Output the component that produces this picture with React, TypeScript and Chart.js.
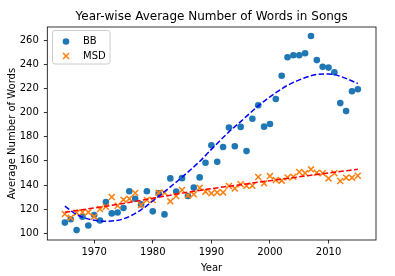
import React, { useEffect, useRef } from "react";
import { Chart, registerables } from "chart.js";

Chart.register(...registerables);

const years = [
  1965, 1966, 1967, 1968, 1969, 1970, 1971, 1972, 1973, 1974,
  1975, 1976, 1977, 1978, 1979, 1980, 1981, 1982, 1983, 1984,
  1985, 1986, 1987, 1988, 1989, 1990, 1991, 1992, 1993, 1994,
  1995, 1996, 1997, 1998, 1999, 2000, 2001, 2002, 2003, 2004,
  2005, 2006, 2007, 2008, 2009, 2010, 2011, 2012, 2013, 2014, 2015,
];

const bbWords = [
  108.9, 111.7, 102.7, 113.8, 106.5, 115.2, 110.6, 126.0, 116.5, 117.2,
  121.0, 134.8, 128.7, 124.0, 134.8, 118.2, 133.2, 115.7, 145.5, 134.5,
  145.7, 130.9, 138.0, 146.3, 158.5, 172.9, 159.2, 171.5, 187.6, 172.1,
  188.1, 168.1, 194.9, 206.0, 188.3, 190.5, 211.2, 230.5, 245.8, 247.4,
  247.4, 249.1, 263.3, 243.4, 237.8, 237.2, 233.3, 207.8, 201.2, 217.6, 219.3,
];

const msdWords = [
  116.0, 113.0, 117.0, 117.5, 117.4, 113.8, 120.1, 122.0, 130.0, 122.9,
  127.9, 128.7, 133.4, 123.4, 127.6, 127.6, 133.7, 133.7, 126.5, 130.9,
  135.9, 131.4, 132.3, 137.8, 134.5, 133.1, 133.9, 133.9, 139.2, 137.2,
  140.6, 139.4, 139.4, 146.6, 141.4, 147.4, 144.1, 143.6, 146.3, 146.9,
  150.8, 149.9, 153.0, 150.2, 149.7, 145.5, 149.7, 143.3, 146.1, 146.1, 147.7,
];

const bbFitYears = [1965, 1967, 1970, 1972, 1975, 1978, 1980, 1983, 1985, 1988, 1990, 1993, 1995, 1998, 2000, 2003, 2005, 2008, 2010, 2012, 2015];
const bbFitValues = [122.5, 115.5, 110.8, 110.0, 112.0, 119.5, 126.8, 138.5, 146.5, 159.5, 169.5, 184.0, 192.5, 205.5, 213.0, 222.5, 227.0, 231.5, 232.0, 230.0, 224.0];

const msdFitYears = [1965, 1970, 1975, 1980, 1985, 1990, 1995, 2000, 2005, 2010, 2015];
const msdFitValues = [117.5, 121.0, 124.8, 129.0, 133.3, 137.0, 140.3, 143.6, 146.8, 150.0, 153.0];

const xTicks = [1970, 1980, 1990, 2000, 2010];
const yTicks = [100, 120, 140, 160, 180, 200, 220, 240, 260];

const titleText = "Year-wise Average Number of Words in Songs";
const xLabel = "Year";
const yLabel = "Average Number of Words";

const FONT = "'DejaVu Sans', sans-serif";
const BLUE = "#1f77b4";
const ORANGE = "#ff7f0e";

export default function App() {
  const ref = useRef<HTMLCanvasElement | null>(null);

  useEffect(() => {
    const canvas = ref.current;
    if (!canvas) return;

    const decor = {
      id: "decor",
      afterDraw(chart: any) {
        const ctx = chart.ctx;
        const a = chart.chartArea;
        ctx.save();
        ctx.strokeStyle = "#000";
        ctx.lineWidth = 0.8;
        ctx.strokeRect(a.left, a.top, a.right - a.left, a.bottom - a.top);
        ctx.fillStyle = "#000";
        ctx.font = `12px ${FONT}`;
        ctx.textAlign = "center";
        ctx.textBaseline = "middle";
        ctx.fillText(titleText, (a.left + a.right) / 2, 17);
        const lx = 52.5, ly = 30.5, lw = 57.5, lh = 33.5, r = 2.5;
        ctx.beginPath();
        ctx.moveTo(lx + r, ly);
        ctx.lineTo(lx + lw - r, ly);
        ctx.quadraticCurveTo(lx + lw, ly, lx + lw, ly + r);
        ctx.lineTo(lx + lw, ly + lh - r);
        ctx.quadraticCurveTo(lx + lw, ly + lh, lx + lw - r, ly + lh);
        ctx.lineTo(lx + r, ly + lh);
        ctx.quadraticCurveTo(lx, ly + lh, lx, ly + lh - r);
        ctx.lineTo(lx, ly + r);
        ctx.quadraticCurveTo(lx, ly, lx + r, ly);
        ctx.closePath();
        ctx.fillStyle = "rgba(255,255,255,0.8)";
        ctx.fill();
        ctx.strokeStyle = "#cccccc";
        ctx.lineWidth = 1;
        ctx.stroke();
        const ds = chart.data.datasets;
        ctx.fillStyle = BLUE;
        ctx.beginPath();
        ctx.arc(66, 41.5, 3.3, 0, Math.PI * 2);
        ctx.fill();
        ctx.strokeStyle = ORANGE;
        ctx.lineWidth = 1.5;
        ctx.beginPath();
        ctx.moveTo(63, 53);
        ctx.lineTo(69, 59);
        ctx.moveTo(69, 53);
        ctx.lineTo(63, 59);
        ctx.stroke();
        ctx.fillStyle = "#000";
        ctx.font = `10px ${FONT}`;
        ctx.textAlign = "left";
        ctx.textBaseline = "middle";
        ctx.fillText(ds[2].label, 83, 41.5);
        ctx.fillText(ds[3].label, 83, 56);
        ctx.restore();
      },
    };

    const chart = new Chart(canvas, {
      type: "scatter",
      data: {
        datasets: [
          {
            type: "line",
            label: "BB fit",
            data: bbFitYears.map((x, i) => ({ x, y: bbFitValues[i] })),
            borderColor: "#0000ff",
            borderWidth: 1.5,
            borderDash: [5.5, 2.4],
            pointRadius: 0,
            fill: false,
            cubicInterpolationMode: "monotone",
            order: 0,
          } as any,
          {
            type: "line",
            label: "MSD fit",
            data: msdFitYears.map((x, i) => ({ x, y: msdFitValues[i] })),
            borderColor: "#ff0000",
            borderWidth: 1.5,
            borderDash: [5.5, 2.4],
            pointRadius: 0,
            fill: false,
            cubicInterpolationMode: "monotone",
            order: 0,
          } as any,
          {
            label: "BB",
            data: years.map((x, i) => ({ x, y: bbWords[i] })),
            backgroundColor: BLUE,
            borderColor: BLUE,
            borderWidth: 0,
            pointRadius: 3.3,
            pointStyle: "circle",
            order: 2,
          },
          {
            label: "MSD",
            data: years.map((x, i) => ({ x, y: msdWords[i] })),
            backgroundColor: ORANGE,
            borderColor: ORANGE,
            borderWidth: 1.5,
            pointRadius: 4.2,
            pointStyle: "crossRot",
            order: 1,
          },
        ],
      },
      options: {
        animation: false,
        responsive: false,
        maintainAspectRatio: false,
        layout: { padding: { left: 0, right: 19, top: 27, bottom: 0 } },
        plugins: {
          legend: { display: false },
          title: { display: false },
          tooltip: { enabled: false },
        },
        scales: {
          x: {
            type: "linear",
            min: 1962,
            max: 2018.1,
            afterBuildTicks: (s: any) => {
              s.ticks = xTicks.map((v) => ({ value: v }));
            },
            afterFit: (s: any) => {
              s.height = 36;
            },
            grid: {
              drawOnChartArea: false,
              drawTicks: true,
              tickLength: 3.5,
              tickColor: "#000",
              color: "#000",
              lineWidth: 0.8,
            },
            border: { display: false },
            ticks: {
              color: "#000",
              font: { family: FONT, size: 10 },
              padding: 3,
              maxRotation: 0,
              autoSkip: false,
              callback: (v: any) => String(v),
            },
            title: {
              display: true,
              text: xLabel,
              color: "#000",
              font: { family: FONT, size: 10 },
              padding: { top: 0, bottom: 2 },
            },
          },
          y: {
            type: "linear",
            min: 94.5,
            max: 270.8,
            afterBuildTicks: (s: any) => {
              s.ticks = yTicks.map((v) => ({ value: v }));
            },
            afterFit: (s: any) => {
              s.width = 47.3;
            },
            grid: {
              drawOnChartArea: false,
              drawTicks: true,
              tickLength: 3.5,
              tickColor: "#000",
              color: "#000",
              lineWidth: 0.8,
            },
            border: { display: false },
            ticks: {
              color: "#000",
              font: { family: FONT, size: 10 },
              padding: 5,
              autoSkip: false,
              callback: (v: any) => String(v),
            },
            title: {
              display: true,
              text: yLabel,
              color: "#000",
              font: { family: FONT, size: 10 },
              padding: { top: 6, bottom: 0 },
            },
          },
        },
      },
      plugins: [decor],
    } as any);

    return () => chart.destroy();
  }, []);

  return (
    <div style={{ position: "fixed", left: 0, top: 0, width: 395, height: 276, background: "#fff" }}>
      <canvas ref={ref} width={395} height={276} style={{ width: 395, height: 276, display: "block" }} />
    </div>
  );
}
